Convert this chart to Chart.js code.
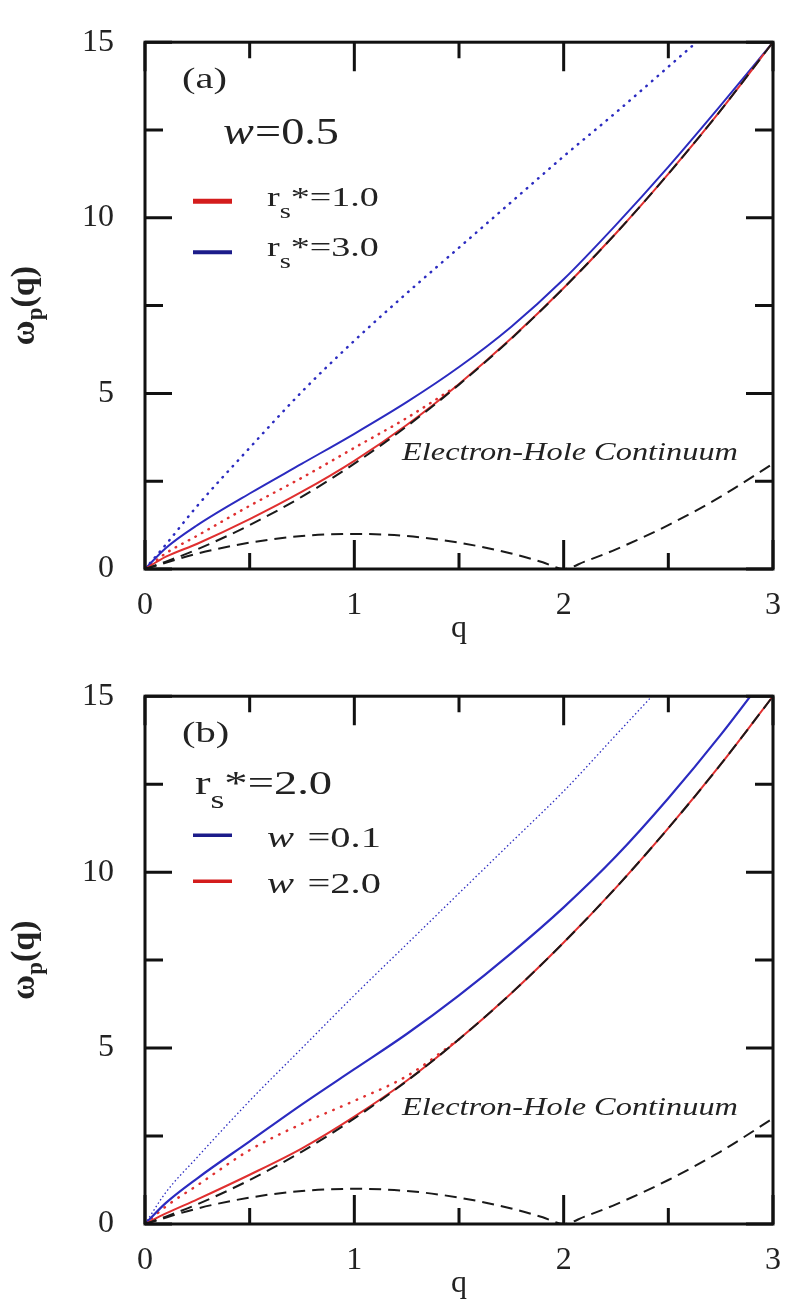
<!DOCTYPE html>
<html>
<head>
<meta charset="utf-8">
<script src="https://cdn.jsdelivr.net/npm/chart.js@4.4.1/dist/chart.umd.min.js"></script>
<style>
  html, body { margin: 0; padding: 0; background: #fff; overflow: hidden; }
  .panel { position: absolute; left: 0; }
</style>
</head>
<body>
<div class="panel" style="top:0px"><canvas id="chartA" width="790" height="654"></canvas></div>
<div class="panel" style="top:654px"><canvas id="chartB" width="790" height="655"></canvas></div>
<script>
// q values shared by the curves
const qGrid = [0, 0.1, 0.25, 0.5, 0.75, 1, 1.25, 1.5, 1.75, 2, 2.25, 2.5, 2.75, 3];

// electron-hole continuum edges (same in both panels)
const upperEdge = [0, 0.21, 0.56, 1.25, 2.06, 3.0, 4.06, 5.25, 6.56, 8.0, 9.56, 11.25, 13.06, 15.0];
const qLow = [0, 0.25, 0.5, 0.75, 1, 1.25, 1.5, 1.75, 1.9, 2, 2.1, 2.25, 2.5, 2.75, 3];
const lowerEdge = [0, 0.44, 0.75, 0.94, 1.0, 0.94, 0.75, 0.44, 0.19, 0, 0.21, 0.56, 1.25, 2.06, 3.0];

// panel (a): w = 0.5
const redSolidA = [0, 0.35, 0.72, 1.42, 2.2, 3.08, 4.1, 5.27, 6.57, 8.0, 9.56, 11.25, 13.06, 15.0];
const redDotA   = [0, 0.45, 0.95, 1.8, 2.6, 3.45, 4.3, 5.25];
const blueSolidA = [0, 0.6, 1.25, 2.15, 3.0, 3.85, 4.75, 5.75, 6.9, 8.25, 9.8, 11.45, 13.2, 15.0];
const blueDotA  = [0, 0.7, 1.8, 3.45, 5.05, 6.5, 7.85, 9.15, 10.45, 11.75, 13.0, 14.3, 15.6];

// panel (b): rs* = 2.0
const redSolidB = [0, 0.3, 0.7, 1.4, 2.15, 3.05, 4.07, 5.25, 6.56, 8.0, 9.56, 11.25, 13.06, 15.0];
const redDotB   = [0, 0.5, 1.1, 2.1, 2.85, 3.5, 4.2, 5.25];
const blueSolidB = [0, 0.6, 1.3, 2.35, 3.4, 4.4, 5.4, 6.5, 7.7, 9.0, 10.45, 12.1, 13.9, 15.85];
const blueDotB  = [0, 0.9, 1.9, 3.5, 5.0, 6.5, 7.95, 9.4, 10.85, 12.3, 13.9, 15.5];

const xTicks = [0, 1, 2, 3];
const yTicks = [0, 5, 10, 15];

const SERIF = "'Liberation Serif', 'DejaVu Serif', serif";
const RED = '#e03030';
const BLUE = '#2b2bc0';

function pts(xs, ys) {
    const out = [];
    for (let i = 0; i < ys.length; i++) out.push({x: xs[i], y: ys[i]});
    return out;
}

function line(data, color, width, dash) {
    return {
        data: data,
        borderColor: color,
        borderWidth: width,
        borderDash: dash || [],
        borderCapStyle: dash && dash[0] < 1 ? 'round' : 'butt',
        pointRadius: 0,
        fill: false,
        clip: 0,
        cubicInterpolationMode: 'monotone'
    };
}

// draws text pieces one after another (own font / baseline shift each), stretched sideways
function drawRich(ctx, x, y, parts, stretch) {
    ctx.save();
    ctx.translate(x, y);
    ctx.scale(stretch || 1, 1);
    let cx = 0;
    for (const p of parts) {
        ctx.font = p.font;
        ctx.fillText(p.t, cx, p.dy || 0);
        cx += ctx.measureText(p.t).width + (p.gap || 0);
    }
    ctx.restore();
}
function richWidth(ctx, parts) {
    let w = 0;
    for (const p of parts) { ctx.font = p.font; w += ctx.measureText(p.t).width + (p.gap || 0); }
    return w;
}

// frame with inward ticks on all four sides + the in-plot texts
const framePlugin = {
    id: 'frame',
    afterDatasetsDraw(chart, args, opts) {
        const {ctx, chartArea: a, scales: {x, y}} = chart;
        ctx.save();
        ctx.strokeStyle = '#111';
        ctx.lineWidth = 3;
        ctx.beginPath();
        for (let v = 0; v <= 3; v += 0.5) {
            const px = x.getPixelForValue(v);
            const len = (v % 1 === 0) ? 29 : 16;
            ctx.moveTo(px, a.bottom); ctx.lineTo(px, a.bottom - len);
            ctx.moveTo(px, a.top); ctx.lineTo(px, a.top + len);
        }
        for (let v = 0; v <= 15; v += 2.5) {
            const py = y.getPixelForValue(v);
            const len = (v % 5 === 0) ? 27 : 18;
            ctx.moveTo(a.left, py); ctx.lineTo(a.left + len, py);
            ctx.moveTo(a.right, py); ctx.lineTo(a.right - len, py);
        }
        ctx.stroke();
        ctx.strokeRect(a.left, a.top, a.right - a.left, a.bottom - a.top);

        ctx.fillStyle = '#222';
        ctx.textAlign = 'left';
        ctx.textBaseline = 'alphabetic';

        // panel tag
        drawRich(ctx, a.left + 37, a.top + 46, [{t: opts.tag, font: '30px ' + SERIF}], 1.35);

        // parameter line
        drawRich(ctx, a.left + opts.param.x, a.top + opts.param.y, opts.param.parts, opts.param.stretch);

        // legend
        for (const e of opts.legend) {
            ctx.strokeStyle = e.color;
            ctx.lineWidth = e.width;
            ctx.beginPath();
            ctx.moveTo(a.left + 48, a.top + e.lineY);
            ctx.lineTo(a.left + 87, a.top + e.lineY);
            ctx.stroke();
            ctx.fillStyle = '#222';
            drawRich(ctx, a.left + 122, a.top + e.textY, e.parts, e.stretch);
        }

        // continuum label
        const label = [{t: 'Electron-Hole Continuum', font: 'italic 25px ' + SERIF}];
        drawRich(ctx, a.left + 257, a.bottom - 109, label, 336 / richWidth(ctx, label));

        // y axis title, rotated
        const titleParts = [
            {t: 'ω', font: 'bold 34px ' + SERIF},
            {t: 'p', font: 'bold 23px ' + SERIF, dy: 8},
            {t: '(q)', font: 'bold 34px ' + SERIF}
        ];
        const tw = richWidth(ctx, titleParts);
        ctx.translate(34, (a.top + a.bottom) / 2);
        ctx.rotate(-Math.PI / 2);
        drawRich(ctx, -tw / 2, 0, titleParts, 1);
        ctx.restore();
    }
};

function rsParts(size, value) {
    return [
        {t: 'r', font: size + 'px ' + SERIF},
        {t: 's', font: Math.round(size * 0.75) + 'px ' + SERIF, dy: Math.round(size * 0.42)},
        {t: '*=' + value, font: size + 'px ' + SERIF}
    ];
}
function wParts(size, value, space) {
    return [
        {t: 'w', font: 'italic ' + size + 'px ' + SERIF, gap: space},
        {t: '=' + value, font: size + 'px ' + SERIF}
    ];
}

function makeChart(id, datasets, frameOpts) {
    const ctx = document.getElementById(id).getContext('2d');
    return new Chart(ctx, {
        type: 'line',
        data: {datasets: datasets},
        options: {
            responsive: false,
            animation: false,
            devicePixelRatio: 1,
            layout: {padding: {top: 23, right: 17, left: 0, bottom: 0}},
            plugins: {
                legend: {display: false},
                tooltip: {enabled: false},
                frame: frameOpts
            },
            scales: {
                x: {
                    type: 'linear',
                    min: 0, max: 3,
                    afterFit(scale) { scale.height = 85; },
                    afterBuildTicks(scale) { scale.ticks = xTicks.map(v => ({value: v})); },
                    grid: {display: false},
                    border: {display: false},
                    ticks: {color: '#222', padding: 9, font: {family: SERIF, size: 32}},
                    title: {display: true, text: 'q', color: '#222', font: {family: SERIF, size: 32}, padding: {top: 0, bottom: 6}}
                },
                y: {
                    type: 'linear',
                    min: 0, max: 15,
                    afterFit(scale) { scale.width = 145; },
                    afterBuildTicks(scale) { scale.ticks = yTicks.map(v => ({value: v})); },
                    grid: {display: false},
                    border: {display: false},
                    ticks: {color: '#222', padding: 23, font: {family: SERIF, size: 32}}
                }
            }
        },
        plugins: [framePlugin]
    });
}

// panel (a)
makeChart('chartA', [
    line(pts(qGrid, upperEdge), '#1a1a1a', 2, [12, 7]),
    line(pts(qLow, lowerEdge), '#1a1a1a', 2, [12, 7]),
    line(pts(qGrid, redSolidA), RED, 2),
    line(pts(qGrid, blueSolidA), BLUE, 2),
    line(pts(qGrid, redDotA), RED, 2.5, [0.5, 7]),
    line(pts(qGrid, blueDotA), BLUE, 2.5, [0.5, 7])
], {
    tag: '(a)',
    param: {x: 78, y: 102, parts: wParts(37, '0.5', 1), stretch: 1.25},
    legend: [
        {color: '#d41c1c', width: 5, lineY: 159, textY: 164, parts: rsParts(28, '1.0'), stretch: 1.36},
        {color: '#1c1c8a', width: 4, lineY: 210, textY: 214, parts: rsParts(28, '3.0'), stretch: 1.36}
    ]
});

// panel (b)
makeChart('chartB', [
    line(pts(qGrid, upperEdge), '#1a1a1a', 2, [12, 7]),
    line(pts(qLow, lowerEdge), '#1a1a1a', 2, [12, 7]),
    line(pts(qGrid, redSolidB), RED, 2),
    line(pts(qGrid, blueSolidB), BLUE, 2.2),
    line(pts(qGrid, redDotB), RED, 2.5, [0.5, 8]),
    line(pts(qGrid, blueDotB), BLUE, 1.3, [1.5, 2.5])
], {
    tag: '(b)',
    param: {x: 50, y: 98, parts: rsParts(34, '2.0'), stretch: 1.37},
    legend: [
        {color: '#1c1c8a', width: 3.5, lineY: 139, textY: 151, parts: wParts(30, '0.1', 10), stretch: 1.35},
        {color: '#d41c1c', width: 3.5, lineY: 185, textY: 197, parts: wParts(30, '2.0', 10), stretch: 1.35}
    ]
});
</script>
</body>
</html>
